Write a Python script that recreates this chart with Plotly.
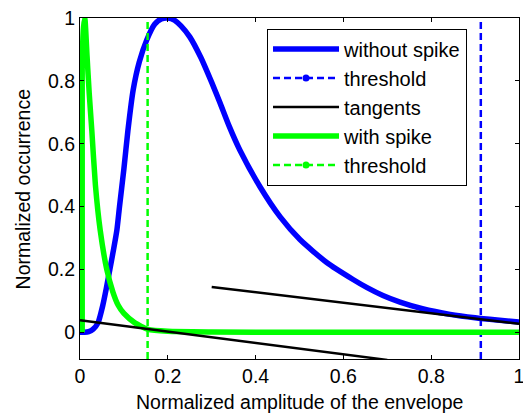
import plotly.graph_objects as go

# ---- data ----
x_without = [0, 0.01, 0.02, 0.03, 0.041, 0.052, 0.06, 0.068, 0.076, 0.084, 0.09, 0.1, 0.109,
             0.121, 0.135, 0.152, 0.17, 0.185, 0.2, 0.215, 0.23, 0.25, 0.275, 0.3, 0.319,
             0.34, 0.364, 0.41, 0.456, 0.501, 0.562, 0.622, 0.654, 0.69, 0.729, 0.78,
             0.843, 0.9, 0.95, 1.0]
y_without = [0, 0, 0.002, 0.01, 0.03, 0.086, 0.14, 0.2, 0.26, 0.325, 0.4, 0.52, 0.64,
             0.77, 0.86, 0.93, 0.98, 0.997, 1.0, 0.993, 0.975, 0.94, 0.875, 0.795, 0.73,
             0.655, 0.58, 0.463, 0.367, 0.295, 0.222, 0.168, 0.142, 0.117, 0.096, 0.075,
             0.057, 0.046, 0.039, 0.033]

x_with = [0.005, 0.005, 0.008, 0.011, 0.016, 0.021, 0.027, 0.035, 0.046, 0.061, 0.075, 0.087,
          0.1, 0.125, 0.155, 0.2, 0.3, 0.5, 1.0]
y_with = [0, 0.85, 0.97, 1.0, 0.88, 0.76, 0.64, 0.47, 0.325, 0.2, 0.128, 0.086,
          0.06, 0.03, 0.009, 0.003, 0.001, 0, 0]

threshold_without = 0.913
threshold_with = 0.154

tangent_x = [0, 0.7, None, 0.3, 1.0]
tangent_y = [0.038, -0.088, None, 0.144, 0.027]

y_range = [-0.085, 1]
tick_vals = [0, 0.2, 0.4, 0.6, 0.8, 1]
tick_text = ['0', '0.2', '0.4', '0.6', '0.8', '1']

x_title = 'Normalized amplitude of the envelope'
y_title = 'Normalized occurrence'

BLUE = '#0000ff'
GREEN = '#00ff00'
DASH = '7px,4px'
FS = 19.5

fig = go.Figure()

fig.add_trace(go.Scatter(x=x_without, y=y_without, mode='lines', name='without spike',
                         line=dict(color=BLUE, width=5.5, shape='spline', smoothing=0.6),
                         legendrank=1, legendgroup='a'))
fig.add_trace(go.Scatter(x=[threshold_without, threshold_without], y=y_range, mode='lines',
                         showlegend=False, line=dict(color=BLUE, width=2.5, dash=DASH)))
fig.add_trace(go.Scatter(x=x_with, y=y_with, mode='lines', name='with spike',
                         line=dict(color=GREEN, width=5.5, shape='spline', smoothing=0.5),
                         legendrank=4, legendgroup='d'))
fig.add_trace(go.Scatter(x=[threshold_with, threshold_with], y=y_range, mode='lines',
                         showlegend=False, line=dict(color=GREEN, width=2.5, dash=DASH)))
fig.add_trace(go.Scatter(x=tangent_x, y=tangent_y, mode='lines', name='tangents',
                         line=dict(color='black', width=2.5), legendrank=3, legendgroup='c'))
# legend proxies for the dashed thresholds (dot marker in legend)
fig.add_trace(go.Scatter(x=[None], y=[None], mode='lines+markers', name='threshold',
                         line=dict(color=BLUE, width=2.5, dash=DASH),
                         marker=dict(color=BLUE, size=7), legendrank=2, legendgroup='b'))
fig.add_trace(go.Scatter(x=[None], y=[None], mode='lines+markers', name='threshold',
                         line=dict(color=GREEN, width=2.5, dash=DASH),
                         marker=dict(color=GREEN, size=7), legendrank=5, legendgroup='e'))

axis_common = dict(
    showgrid=False, zeroline=False, showline=True, mirror='ticks',
    linecolor='black', linewidth=1, ticks='inside', ticklen=4, tickcolor='black',
    tickfont=dict(size=FS, color='black'), automargin=False, ticklabeloverflow='allow',
)

fig.update_layout(
    width=523, height=415,
    margin=dict(l=80, r=4, t=18, b=56),
    paper_bgcolor='white', plot_bgcolor='white',
    font=dict(family='Arial, Liberation Sans, sans-serif', size=FS, color='black'),
    xaxis=dict(range=[0, 1], tickvals=tick_vals, ticktext=tick_text, **axis_common),
    yaxis=dict(range=y_range, tickvals=tick_vals, ticktext=tick_text, **axis_common),
    legend=dict(x=0.426, y=0.969, xanchor='left', yanchor='top',
                bordercolor='black', borderwidth=1, bgcolor='white',
                font=dict(size=20), itemwidth=66, traceorder='grouped', tracegroupgap=0),
    showlegend=True,
    annotations=[
        dict(text=x_title, xref='paper', yref='paper', x=0.5, y=-0.126,
             xanchor='center', yanchor='middle', showarrow=False, font=dict(size=FS)),
        dict(text=y_title, xref='paper', yref='paper', x=-0.130, y=0.5,
             xanchor='center', yanchor='middle', showarrow=False, textangle=-90,
             font=dict(size=FS)),
    ],
)

fig.write_html('out.html', config={'displayModeBar': False},
               post_script="document.body.style.margin='0';document.body.style.padding='0';")
